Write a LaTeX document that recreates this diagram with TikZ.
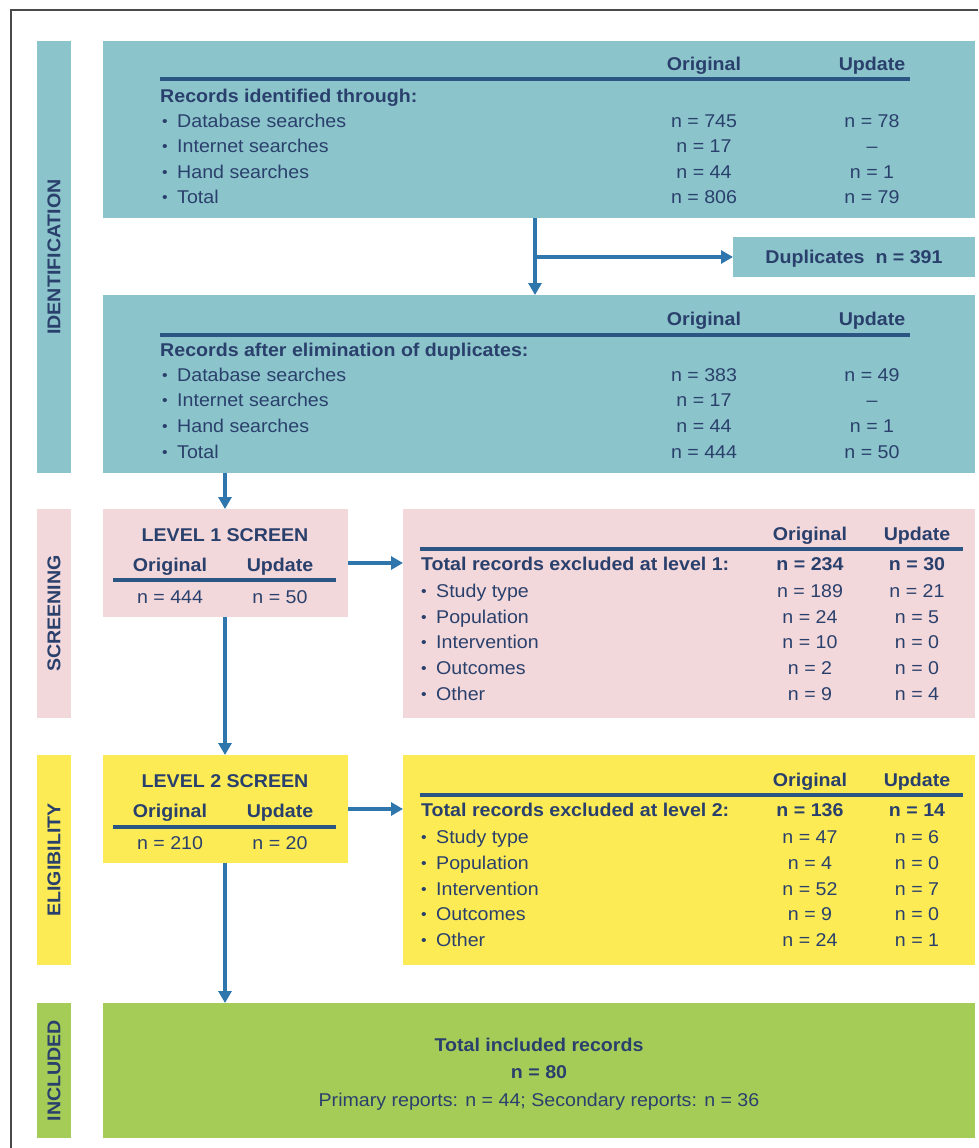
\documentclass[tikz,border=0pt]{standalone}
\usepackage{fontspec}
\setmainfont{Liberation Sans}[FakeStretch=1.06]
\usetikzlibrary{arrows.meta}
\definecolor{tealbox}{HTML}{8CC4CB}
\definecolor{pinkbox}{HTML}{F3D8DB}
\definecolor{yellowbox}{HTML}{FCEB55}
\definecolor{greenbox}{HTML}{A6CC58}
\definecolor{navy}{HTML}{2A406C}
\definecolor{rulecol}{HTML}{2B5583}
\definecolor{arrowcol}{HTML}{2E76AC}
\definecolor{framecol}{HTML}{4A4A4A}
\newcommand\mybul{\makebox[15pt][l]{\raisebox{0.5pt}{\fontsize{15}{15}\selectfont\textbullet}}}
\newcommand\myrow[5]{%
 \node[txt, anchor=mid west] (#1l) at (\colL,#2) {\mybul#3};
 \node[txt] (#1o) at (\colO,#2) {#4};
 \node[txt] (#1u) at (\colU,#2) {#5};}
\newcommand\myboldrow[5]{%
 \node[btxt, anchor=mid west] (#1l) at (\colL,#2) {#3};
 \node[btxt] (#1o) at (\colO,#2) {#4};
 \node[btxt] (#1u) at (\colU,#2) {#5};}
\begin{document}
\begin{tikzpicture}[x=1pt,y=-1pt,
  box/.style={draw=none, inner sep=0, outer sep=0},
  txt/.style={text=navy, font=\fontsize{18.5}{20}\selectfont, inner sep=0, anchor=mid, yshift=-3.5pt},
  btxt/.style={txt, font=\fontsize{18.5}{20}\selectfont\bfseries},
  sidelbl/.style={text=navy, font=\fontsize{18.5}{20}\selectfont\bfseries, inner sep=0, rotate=90},
  sep/.style={draw=rulecol, line width=3.2pt},
  arr/.style={draw=arrowcol, line width=3.4pt, -{Triangle[length=12pt,width=13pt]}}]
\useasboundingbox (0,0) rectangle (978,1148);
\fill[white] (0,0) rectangle (978,1148);
% outer frame
\draw[framecol, line width=1.5pt] (11,1148) -- (11,10) -- (978,10);

% side bars
\node[box, fill=tealbox, minimum width=34pt, minimum height=432pt] (sid) at (54,257) {};
\node[sidelbl] (sidl) at (sid.center) {IDENTIFICATION};
\node[box, fill=pinkbox, minimum width=34pt, minimum height=209pt] (sscr) at (54,613.5) {};
\node[sidelbl] (sscrl) at (sscr.center) {SCREENING};
\node[box, fill=yellowbox, minimum width=34pt, minimum height=210pt] (sel) at (54,860) {};
\node[sidelbl] (sell) at (sel.center) {ELIGIBILITY};
\node[box, fill=greenbox, minimum width=34pt, minimum height=135pt] (sinc) at (54,1070.5) {};
\node[sidelbl] (sincl) at (sinc.center) {INCLUDED};

% main boxes
\node[box, fill=tealbox, minimum width=872pt, minimum height=177pt] (id1) at (539,129.5) {};
\node[box, fill=tealbox, minimum width=242pt, minimum height=40pt] (dup) at (854,257) {};
\node[box, fill=tealbox, minimum width=872pt, minimum height=178pt] (id2) at (539,384) {};
\node[box, fill=pinkbox, minimum width=245pt, minimum height=108pt] (l1) at (225.5,563) {};
\node[box, fill=pinkbox, minimum width=572pt, minimum height=209pt] (ex1) at (689,613.5) {};
\node[box, fill=yellowbox, minimum width=245pt, minimum height=108pt] (l2) at (225.5,809) {};
\node[box, fill=yellowbox, minimum width=572pt, minimum height=210pt] (ex2) at (689,860) {};
\node[box, fill=greenbox, minimum width=872pt, minimum height=135pt] (inc) at (539,1070.5) {};

% identification table 1
\def\colL{162}\def\colO{704}\def\colU{872}
\node[btxt] (h1o) at (\colO,64) {Original};
\node[btxt] (h1u) at (\colU,64) {Update};
\draw[sep] (160,79) -- (910,79);
\node[btxt, anchor=mid west] (t1) at (160,96) {Records identified through:};
\myrow{ra}{121}{Database searches}{n = 745}{n = 78}
\myrow{rb}{146}{Internet searches}{n = 17}{--}
\myrow{rc}{172}{Hand searches}{n = 44}{n = 1}
\myrow{rd}{197}{Total}{n = 806}{n = 79}

\node[btxt] (dupt) at (dup.center) {Duplicates\ \ n = 391};

% identification table 2
\node[btxt] (h2o) at (\colO,319) {Original};
\node[btxt] (h2u) at (\colU,319) {Update};
\draw[sep] (160,335) -- (910,335);
\node[btxt, anchor=mid west] (t2) at (160,350) {Records after elimination of duplicates:};
\myrow{sa}{375}{Database searches}{n = 383}{n = 49}
\myrow{sb}{400}{Internet searches}{n = 17}{--}
\myrow{sc}{426}{Hand searches}{n = 44}{n = 1}
\myrow{sd}{452}{Total}{n = 444}{n = 50}

% level 1
\node[btxt] (l1t) at (225,535) {LEVEL 1 SCREEN};
\node[btxt] (l1o) at (170,565) {Original};
\node[btxt] (l1u) at (280,565) {Update};
\draw[sep] (113,580) -- (336,580);
\node[txt] (l1a) at (170,597) {n = 444};
\node[txt] (l1b) at (280,597) {n = 50};

% excluded 1
\def\colL{421}\def\colO{810}\def\colU{917}
\node[btxt] (e1ho) at (\colO,534) {Original};
\node[btxt] (e1hu) at (\colU,534) {Update};
\draw[sep] (420,549) -- (963,549);
\myboldrow{ea}{564}{Total records excluded at level 1:}{n = 234}{n = 30}
\myrow{eb}{591}{Study type}{n = 189}{n = 21}
\myrow{ec}{617}{Population}{n = 24}{n = 5}
\myrow{ed}{642}{Intervention}{n = 10}{n = 0}
\myrow{ee}{668}{Outcomes}{n = 2}{n = 0}
\myrow{ef}{694}{Other}{n = 9}{n = 4}

% level 2
\node[btxt] (l2t) at (225,781) {LEVEL 2 SCREEN};
\node[btxt] (l2o) at (170,811) {Original};
\node[btxt] (l2u) at (280,811) {Update};
\draw[sep] (113,827) -- (336,827);
\node[txt] (l2a) at (170,843) {n = 210};
\node[txt] (l2b) at (280,843) {n = 20};

% excluded 2
\node[btxt] (e2ho) at (\colO,780) {Original};
\node[btxt] (e2hu) at (\colU,780) {Update};
\draw[sep] (420,795) -- (963,795);
\myboldrow{fa}{810}{Total records excluded at level 2:}{n = 136}{n = 14}
\myrow{fb}{837}{Study type}{n = 47}{n = 6}
\myrow{fc}{863}{Population}{n = 4}{n = 0}
\myrow{fd}{889}{Intervention}{n = 52}{n = 7}
\myrow{fe}{914}{Outcomes}{n = 9}{n = 0}
\myrow{ff}{940}{Other}{n = 24}{n = 1}

% included
\node[btxt] (inca) at (539,1045) {Total included records};
\node[btxt] (incb) at (539,1072) {n = 80};
\node[txt] (incc) at (539,1100) {Primary reports: n = 44; Secondary reports: n = 36};

% connectors
\coordinate (j1) at (535,257);
\coordinate (cx) at (225,0);
\draw[arr] (j1 |- id1.south) -- (j1 |- id2.north);
\draw[arr] (j1) -- (dup.west);
\draw[arr] (cx |- id2.south) -- (cx |- l1.north);
\draw[arr] (l1.east) -- (ex1.west |- l1.east);
\draw[arr] (cx |- l1.south) -- (cx |- l2.north);
\draw[arr] (l2.east) -- (ex2.west |- l2.east);
\draw[arr] (cx |- l2.south) -- (cx |- inc.north);
\end{tikzpicture}
\end{document}
